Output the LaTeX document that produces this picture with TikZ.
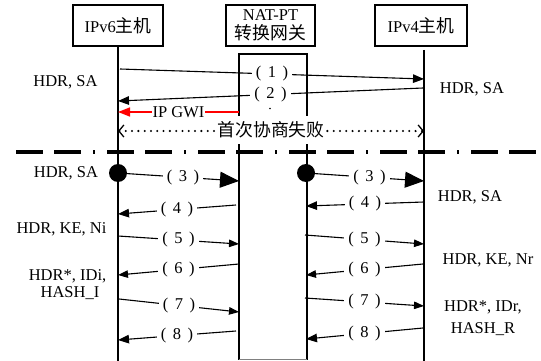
\documentclass[tikz,border=0pt]{standalone}
\usepackage{fontspec}
\setmainfont{Liberation Serif}
\newfontfamily\cjk{Noto Sans CJK SC}[Scale=1.08]
\usetikzlibrary{arrows.meta}
\begin{document}
\begin{tikzpicture}[x=1pt,y=-1pt,
  every node/.style={font=\fontsize{16.5}{18.5}\selectfont, inner sep=0pt},
  hbox/.style={draw, line width=1.3pt, minimum width=90pt, minimum height=41pt, align=center},
  life/.style={line width=1.4pt},
  msg/.style={line width=1.1pt},
  tipS/.style={-{Triangle[length=11pt,width=8.5pt]}},
  tipM/.style={-{Triangle[length=10pt,width=7.5pt]}},
  tipL/.style={-{Triangle[length=19pt,width=16pt]}},
  num/.style={fill=white, inner xsep=4pt, inner ysep=1pt},
  ann/.style={anchor=base},
  dotc/.style={circle, fill, minimum size=18pt, inner sep=0pt},
]
\useasboundingbox (0,0) rectangle (541,361);

% header boxes
\node[hbox] (v6) at (118,25.5) {IPv6{\cjk 主机}};
\node[hbox, minimum width=89pt] (nat) at (270.5,25.5) {NAT-PT\\{\cjk 转换网关}};
\node[hbox, minimum width=92pt] (v4) at (421,25.5) {IPv4{\cjk 主机}};

% gateway body
\coordinate (gwbl) at (239,359.5);
\coordinate (gwtl) at (239,54);
\coordinate (gwtr) at (307,54);
\coordinate (gwbr) at (307,359.5);
\draw[line width=1.3pt] (gwbl) -- (gwtl) -- (gwtr) -- (gwbr);
\draw[gray, line width=1.3pt] (gwbl) -- (gwbr);

% lifelines
\coordinate (v6end) at (118,361);
\coordinate (v4top) at (424,50);
\coordinate (v4end) at (424,361);
\draw[life] (v6.south) -- (v6end);
\draw[life] (v4top) -- (v4end);

% separator
\coordinate (sepL) at (16,152);
\coordinate (sepR) at (541,152);
\draw[line width=3.3pt, dash pattern=on 27pt off 11pt on 27pt off 12pt on 2pt off 12pt] (sepL) -- (sepR);

% phase 1
\coordinate (m1a) at (120,69);  \coordinate (m1b) at (424,79);
\coordinate (m2a) at (423,88);  \coordinate (m2b) at (118,101);
\draw[msg,tipS] (m1a) -- node[num]{(\hspace{6.5pt}1\hspace{6.5pt})} (m1b);
\draw[msg,tipS] (m2a) -- node[num]{(\hspace{6.5pt}2\hspace{6.5pt})} (m2b);
\fill (270,108.5) circle (0.9pt);

\coordinate (ga) at (239,112); \coordinate (gb) at (118,112);
\draw[red, line width=1.4pt, -{Triangle[length=12pt,width=9pt]}] (ga) -- node[fill=white, text=black, inner xsep=1pt, inner ysep=1pt]{IP GWI} (gb);

\coordinate (fa) at (118,131); \coordinate (fb) at (424,131);
\draw[line width=2.3pt, dash pattern=on 0pt off 6.3pt, line cap=round,
  {Straight Barb[length=5pt,width=12pt,line width=1.3pt]}-{Straight Barb[length=5pt,width=12pt,line width=1.3pt]}]
  (fa) -- node[fill=white, minimum height=28pt, inner xsep=1pt, yshift=1pt]{\cjk 首次协商失败} (fb);

% phase 2
\node[dotc] (c3l) at (118,173) {};
\node[dotc] (c3r) at (306,173) {};
\coordinate (m3lb) at (239,181);
\coordinate (m3rb) at (424,181);
\draw[msg,tipL] (c3l) -- node[num]{(\hspace{6.5pt}3\hspace{6.5pt})} (m3lb);
\draw[msg,tipL] (c3r) -- node[num]{(\hspace{6.5pt}3\hspace{6.5pt})} (m3rb);

\coordinate (m4la) at (236,205); \coordinate (m4lb) at (118,214);
\coordinate (m4ra) at (424,202); \coordinate (m4rb) at (306,206);
\draw[msg,tipS] (m4la) -- node[num]{(\hspace{6.5pt}4\hspace{6.5pt})} (m4lb);
\draw[msg,tipS] (m4ra) -- node[num]{(\hspace{6.5pt}4\hspace{6.5pt})} (m4rb);

\coordinate (m5la) at (118,236); \coordinate (m5lb) at (239,244);
\coordinate (m5ra) at (305,235); \coordinate (m5rb) at (424,244);
\draw[msg,tipM] (m5la) -- node[num]{(\hspace{6.5pt}5\hspace{6.5pt})} (m5lb);
\draw[msg,tipM] (m5ra) -- node[num]{(\hspace{6.5pt}5\hspace{6.5pt})} (m5rb);

\coordinate (m6la) at (239,264); \coordinate (m6lb) at (118,275);
\coordinate (m6ra) at (423,264); \coordinate (m6rb) at (306,275);
\draw[msg,tipM] (m6la) -- node[num]{(\hspace{6.5pt}6\hspace{6.5pt})} (m6lb);
\draw[msg,tipM] (m6ra) -- node[num]{(\hspace{6.5pt}6\hspace{6.5pt})} (m6rb);

\coordinate (m7la) at (119,299); \coordinate (m7lb) at (239,312);
\coordinate (m7ra) at (305,298); \coordinate (m7rb) at (424,306);
\draw[msg,tipM] (m7la) -- node[num]{(\hspace{6.5pt}7\hspace{6.5pt})} (m7lb);
\draw[msg,tipM] (m7ra) -- node[num]{(\hspace{6.5pt}7\hspace{6.5pt})} (m7rb);

\coordinate (m8la) at (236,331); \coordinate (m8lb) at (118,340);
\coordinate (m8ra) at (423,328); \coordinate (m8rb) at (306,339);
\draw[msg,tipS] (m8la) -- node[num]{(\hspace{6.5pt}8\hspace{6.5pt})} (m8lb);
\draw[msg,tipS] (m8ra) -- node[num]{(\hspace{6.5pt}8\hspace{6.5pt})} (m8rb);

% annotations left
\node[ann] (l1) at (65.5,86) {HDR, SA};
\node[ann] (l2) at (66,177) {HDR, SA};
\node[ann] (l3) at (61.5,233) {HDR, KE, Ni};
\node[ann] (l4) at (67.5,280) {HDR*, IDi,};
\node[ann] (l5) at (70,297) {HASH\_I};
% annotations right
\node[ann] (r1) at (472,94) {HDR, SA};
\node[ann] (r2) at (470,201) {HDR, SA};
\node[ann] (r3) at (488,264) {HDR, KE, Nr};
\node[ann] (r4) at (483,311) {HDR*, IDr,};
\node[ann] (r5) at (483,333) {HASH\_R};
\end{tikzpicture}
\end{document}
